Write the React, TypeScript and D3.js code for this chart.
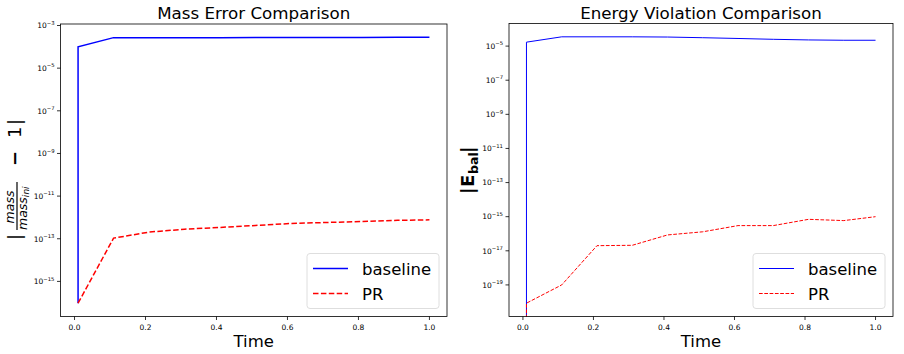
import { useMemo } from "react";
import * as d3 from "d3";

const width = 904;
const height = 354;
const font = "DejaVu Sans, sans-serif";

const times = [0.01, 0.01, 0.11, 0.21, 0.31, 0.41, 0.51, 0.61, 0.71, 0.81, 0.91, 1.0];
const massBaseline = [9.5e-17, 1.0e-4, 2.7e-4, 2.7e-4, 2.7e-4, 2.7e-4, 2.72e-4, 2.74e-4, 2.75e-4, 2.77e-4, 2.8e-4, 2.8e-4];
const massPR = [9.5e-17, 9.5e-17, 1.07e-13, 2.05e-13, 2.8e-13, 3.4e-13, 4.2e-13, 5.2e-13, 5.8e-13, 6.4e-13, 7.3e-13, 7.7e-13];
const energyBaseline = [0, 1.7e-5, 3.5e-5, 3.5e-5, 3.5e-5, 3.4e-5, 3.1e-5, 2.8e-5, 2.5e-5, 2.3e-5, 2.2e-5, 2.2e-5];
const energyPR = [0, 8.5e-21, 1e-19, 2e-17, 2.1e-17, 8.5e-17, 1.3e-16, 3e-16, 3e-16, 7e-16, 5.9e-16, 1e-15];
const xTicks = [0, 0.2, 0.4, 0.6, 0.8, 1.0];
const massExponents = [-3, -5, -7, -9, -11, -13, -15];
const energyExponents = [-5, -7, -9, -11, -13, -15, -17, -19];
const seriesNames = ["baseline", "PR"];

type PanelProps = {
  id: string;
  left: number;
  right: number;
  top: number;
  bottom: number;
  title: string;
  baseline: number[];
  pr: number[];
  exponents: number[];
  lineWidth: number;
  yLabel: React.ReactNode;
};

// log-domain with 5% padding like matplotlib autoscaling, ignoring non-positive values
const logExtent = (values: number[]) => {
  const logs = values.filter((v) => v > 0).map((v) => Math.log10(v));
  const lo = d3.min(logs) as number;
  const hi = d3.max(logs) as number;
  const pad = (hi - lo) * 0.05;
  return [Math.pow(10, lo - pad), Math.pow(10, hi + pad)] as [number, number];
};

const Panel = ({ id, left, right, top, bottom, title, baseline, pr, exponents, lineWidth, yLabel }: PanelProps) => {
  const { x, y, blueLine, redLine } = useMemo(() => {
    const tExt = d3.extent(times) as [number, number];
    const tPad = (tExt[1] - tExt[0]) * 0.05;
    const x = d3.scaleLinear().domain([tExt[0] - tPad, tExt[1] + tPad]).range([left, right]);
    const y = d3.scaleLog().domain(logExtent([...baseline, ...pr])).range([bottom, top]);
    // zeros fall far below the frame and get clipped
    const line = d3
      .line<number>()
      .x((_, i) => x(times[i]))
      .y((v) => (v > 0 ? y(v) : bottom + 2000));
    return { x, y, blueLine: line(baseline) ?? "", redLine: line(pr) ?? "" };
  }, [left, right, top, bottom, baseline, pr]);

  const dash = lineWidth > 1.2 ? "5.5,2.4" : "3.7,1.6";
  const legX = right - 140;
  const legY = bottom - 63;
  const cx = (left + right) / 2;

  return (
    <g fontFamily={font}>
      <defs>
        <clipPath id={id}>
          <rect x={left} y={top} width={right - left} height={bottom - top} />
        </clipPath>
      </defs>
      <g clipPath={`url(#${id})`}>
        <path d={blueLine} fill="none" stroke="#0000ff" strokeWidth={lineWidth} />
        <path d={redLine} fill="none" stroke="#ff0000" strokeWidth={lineWidth} strokeDasharray={dash} />
      </g>
      <rect x={left} y={top} width={right - left} height={bottom - top} fill="none" stroke="#000" strokeWidth={0.8} />
      {xTicks.map((t) => (
        <g key={t}>
          <line x1={x(t)} x2={x(t)} y1={bottom} y2={bottom + 3.5} stroke="#000" strokeWidth={0.8} />
          <text x={x(t)} y={bottom + 13} fontSize={7.5} textAnchor="middle" fill="#000">
            {t.toFixed(1)}
          </text>
        </g>
      ))}
      {exponents.map((e) => (
        <g key={e}>
          <line x1={left - 3.5} x2={left} y1={y(Math.pow(10, e))} y2={y(Math.pow(10, e))} stroke="#000" strokeWidth={0.8} />
          <text x={left - 6} y={y(Math.pow(10, e)) + 2.8} fontSize={7.5} textAnchor="end" fill="#000">
            10
            <tspan fontSize={5.3} dy={-3.6}>
              {`\u2212${-e}`}
            </tspan>
          </text>
        </g>
      ))}
      <text x={cx} y={19} fontSize={16.7} textAnchor="middle" fill="#000">
        {title}
      </text>
      <text x={cx} y={347} fontSize={16.5} textAnchor="middle" fill="#000">
        Time
      </text>
      {yLabel}
      <rect x={legX} y={legY} width={132} height={55} rx={3} fill="#fff" fillOpacity={0.8} stroke="#d5d5d5" strokeWidth={0.8} />
      {seriesNames.map((name, i) => (
        <g key={name}>
          <line
            x1={legX + 6}
            x2={legX + 41}
            y1={legY + 15 + i * 25}
            y2={legY + 15 + i * 25}
            stroke={i === 0 ? "#0000ff" : "#ff0000"}
            strokeWidth={lineWidth}
            strokeDasharray={i === 0 ? undefined : dash}
          />
          <text x={legX + 55} y={legY + 21 + i * 25} fontSize={16.5} fill="#000">
            {name}
          </text>
        </g>
      ))}
    </g>
  );
};

const MassLabel = () => (
  <g transform="translate(21,240) rotate(-90)" fontFamily={font} fill="#000">
    <text x={0} y={0} fontSize={18}>|</text>
    <text x={33} y={-7} fontSize={12.5} fontStyle="italic" textAnchor="middle">mass</text>
    <line x1={10} x2={58} y1={-4} y2={-4} stroke="#000" strokeWidth={1.2} />
    <text x={10} y={6} fontSize={12.5} fontStyle="italic">
      mass
      <tspan fontSize={9} dy={2}>ini</tspan>
    </text>
    <text x={74} y={0} fontSize={18} fontWeight="bold">{"\u2212"}</text>
    <text x={102} y={0} fontSize={18}>1</text>
    <text x={115} y={0} fontSize={18}>|</text>
  </g>
);

const EnergyLabel = () => (
  <g transform="translate(474,194) rotate(-90)" fontFamily={font} fill="#000" fontWeight="bold">
    <text x={0} y={0} fontSize={18}>|</text>
    <text x={7} y={0} fontSize={18}>E</text>
    <text x={20} y={3.5} fontSize={12.5}>bal</text>
    <text x={41} y={0} fontSize={18}>|</text>
  </g>
);

const App = () => (
  <svg width={width} height={height} style={{ position: "absolute", left: 0, top: 0 }}>
    <rect width={width} height={height} fill="#fff" />
    <Panel
      id="clip-mass"
      left={60.5}
      right={447}
      top={24}
      bottom={316.5}
      title="Mass Error Comparison"
      baseline={massBaseline}
      pr={massPR}
      exponents={massExponents}
      lineWidth={1.5}
      yLabel={<MassLabel />}
    />
    <Panel
      id="clip-energy"
      left={509}
      right={893}
      top={23.5}
      bottom={316.5}
      title="Energy Violation Comparison"
      baseline={energyBaseline}
      pr={energyPR}
      exponents={energyExponents}
      lineWidth={1.0}
      yLabel={<EnergyLabel />}
    />
  </svg>
);

export default App;
